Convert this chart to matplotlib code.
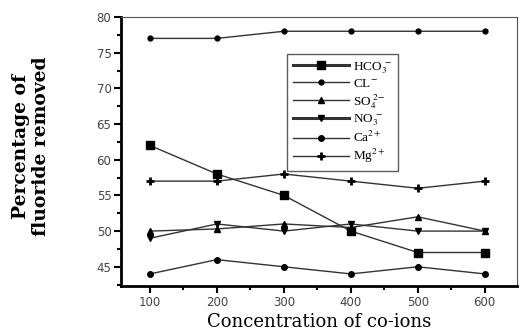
import matplotlib.pyplot as plt
from matplotlib.ticker import MultipleLocator

plt.rcParams['mathtext.fontset'] = 'stix'

conc = [100, 200, 300, 400, 500, 600]
hco3 = [62, 58, 55, 50, 47, 47]
cl = [77, 77, 78, 78, 78, 78]
so4 = [50, 50.3, 51, 50.5, 52, 50]
no3 = [49, 51, 50, 51, 50, 50]
ca = [44, 46, 45, 44, 45, 44]
mg = [57, 57, 58, 57, 56, 57]

fig = plt.figure(figsize=(5.2, 3.33), dpi=100)
ax = fig.add_axes([0.233, 0.141, 0.761, 0.808])

lc = '#333333'
ax.plot(conc, hco3, color=lc, lw=1, marker='s', ms=6, mfc='black', mec='black', label=r'HCO$_3^{\;-}$')
ax.plot(conc, cl, color=lc, lw=1, marker='o', ms=3.5, mfc='black', mec='black', label=r'CL$^{-}$')
ax.plot(conc, so4, color=lc, lw=1, marker='^', ms=4.5, mfc='black', mec='black', label=r'SO$_4^{\;2-}$')
ax.plot(conc, no3, color=lc, lw=1, marker='v', ms=4.5, mfc='black', mec='black', label=r'NO$_3^{\;-}$')
ax.plot(conc, ca, color=lc, lw=1, marker='o', ms=4, mfc='black', mec='black', label=r'Ca$^{2+}$')
ax.plot(conc, mg, color=lc, lw=1, marker='+', ms=6, mew=2, mec='black', label=r'Mg$^{2+}$')

ax.set_xlim(57, 648)
ax.set_ylim(42.3, 80)
ax.set_xticks(conc)
ax.xaxis.set_minor_locator(MultipleLocator(50))
ax.yaxis.set_major_locator(MultipleLocator(5))
ax.yaxis.set_minor_locator(MultipleLocator(2.5))
ax.tick_params(which='major', direction='out', length=5, width=1.5, labelsize=8.5, pad=2)
ax.tick_params(which='minor', direction='out', length=3, width=1.5)
for lab in ax.get_xticklabels() + ax.get_yticklabels():
    lab.set_family('DejaVu Sans')
    lab.set_color('#444444')

ax.spines['left'].set_linewidth(2)
ax.spines['bottom'].set_linewidth(2)
ax.spines['top'].set_linewidth(0.8)
ax.spines['right'].set_linewidth(0.8)
ax.spines['top'].set_color('#555555')
ax.spines['right'].set_color('#555555')

ax.set_xlabel('Concentration of co-ions', family='DejaVu Serif', fontsize=13, labelpad=3)
ax.set_ylabel('Percentage of\nfluoride removed', family='DejaVu Serif', fontsize=13.5,
              fontweight='bold', linespacing=1.15)
ax.yaxis.set_label_coords(-0.18, 0.52)

leg = ax.legend(loc='upper left', bbox_to_anchor=(0.42, 0.862), borderaxespad=0,
                frameon=True, fancybox=False, edgecolor='#333333', handlelength=4.2,
                handletextpad=0.3, labelspacing=0.15, borderpad=0.45,
                prop={'family': 'Liberation Serif', 'size': 9.5})
leg.get_frame().set_linewidth(1)
leg.get_lines()[0].set_linewidth(2.2)
leg.get_lines()[3].set_linewidth(2.2)

fig.savefig('out.png', dpi=100)
